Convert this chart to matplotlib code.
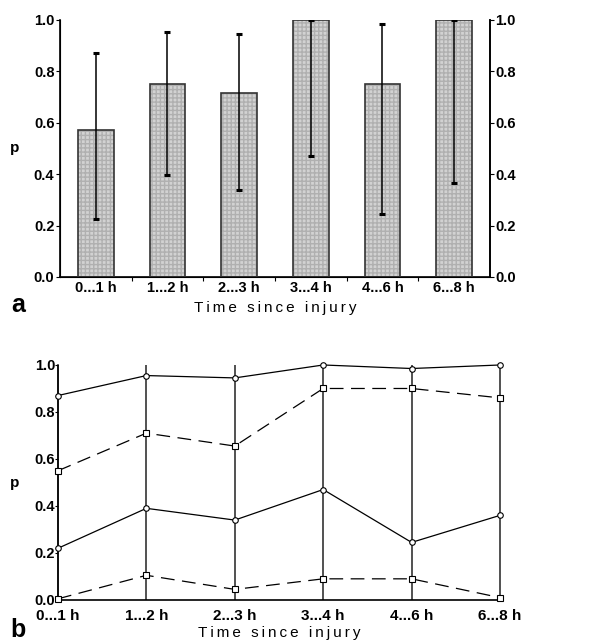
import matplotlib
matplotlib.use("Agg")
import matplotlib.pyplot as plt
import numpy as np

plt.rcParams['font.family'] = ['Liberation Sans', 'DejaVu Sans']

categories = ["0...1 h", "1...2 h", "2...3 h", "3...4 h", "4...6 h", "6...8 h"]
p_values = [0.57, 0.75, 0.714, 1.0, 0.75, 1.0]
ci_upper = [0.87, 0.955, 0.945, 1.0, 0.985, 1.0]
ci_lower = [0.225, 0.395, 0.34, 0.47, 0.245, 0.365]
# panel b series
upper_solid = [0.87, 0.955, 0.945, 1.0, 0.985, 1.0]
upper_dashed = [0.55, 0.71, 0.655, 0.9, 0.9, 0.86]
lower_solid = [0.22, 0.39, 0.34, 0.47, 0.245, 0.36]
lower_dashed = [0.005, 0.105, 0.045, 0.09, 0.09, 0.01]
yticks = [0.0, 0.2, 0.4, 0.6, 0.8, 1.0]
T = "\u2009"
xlabel = (T.join("Time") + T + " " + T + T.join("since") + T + " " + T + T.join("injury"))

fig = plt.figure(figsize=(6.09, 6.41), dpi=100)

tfs = 10.5
# ---------- panel a ----------
ax = fig.add_axes([0.0985, 0.5679, 0.7061, 0.4009])
x = np.arange(len(categories))
ax.bar(x, p_values, width=0.5, facecolor='#d2d2d2', edgecolor='#b0b0b0',
       hatch='++++', linewidth=0, zorder=2)
ax.bar(x, p_values, width=0.5, facecolor='none', edgecolor='#333333',
       linewidth=1.2, zorder=3)
yerr = [np.array(p_values) - np.array(ci_lower), np.array(ci_upper) - np.array(p_values)]
ax.errorbar(x, p_values, yerr=yerr, fmt='none', ecolor='black', elinewidth=1.1,
            capsize=2.5, capthick=2.2, zorder=4)
ax.set_xlim(-0.5, 5.5)
ax.set_ylim(0, 1.0)
ax.set_xticks(x)
ax.set_xticklabels(categories, fontsize=tfs, fontweight='bold')
ax.set_xticks(np.arange(0.5, 5.5, 1.0), minor=True)
ax.tick_params(axis='x', which='major', length=0, pad=3)
ax.tick_params(axis='x', which='minor', length=3, width=0.8)
ax.set_yticks(yticks)
ax.set_yticklabels([f"{v:.1f}" for v in yticks], fontsize=tfs, fontweight='bold')
ax.tick_params(axis='y', length=3, width=0.8, pad=1)
ax.spines['top'].set_visible(False)
for s in ['left', 'bottom', 'right']:
    ax.spines[s].set_linewidth(1.2)
ax2 = ax.twinx()
ax2.set_ylim(0, 1.0)
ax2.set_yticks(yticks)
ax2.set_yticklabels([f"{v:.1f}" for v in yticks], fontsize=tfs, fontweight='bold')
ax2.tick_params(axis='y', length=3, width=0.8, pad=1)
ax2.spines['top'].set_visible(False)
ax2.spines['right'].set_linewidth(1.2)
ax.set_xlabel(xlabel, fontsize=11, labelpad=4)
fig.text(15 / 609, 1 - 148 / 641, "p", fontsize=11, fontweight='bold', ha='center', va='center')
fig.text(18 / 609, 1 - 305 / 641, "a", fontsize=18, fontweight='bold', ha='center', va='center')

# ---------- panel b ----------
bx = fig.add_axes([0.0952, 0.0640, 0.7258, 0.3666])
bx.vlines(x, 0, 1.0, colors='#222222', linewidth=1.1, zorder=1, clip_on=False)
kw = dict(color='black', lw=0.9, ms=4, mfc='white', mec='black', mew=0.8,
          zorder=3, clip_on=False)
bx.plot(x, upper_solid, '-', marker='o', **kw)
bx.plot(x, lower_solid, '-', marker='o', **kw)
bx.plot(x, upper_dashed, dashes=(11, 6), marker='s', **kw)
bx.plot(x, lower_dashed, dashes=(11, 6), marker='s', **kw)
bx.set_xlim(0, 5)
bx.set_ylim(0, 1.0)
bx.set_xticks(x)
bx.set_xticklabels(categories, fontsize=tfs + 0.5, fontweight='bold')
bx.tick_params(axis='x', length=0, pad=6.5)
bx.set_yticks(yticks)
bx.set_yticklabels([f"{v:.1f}" for v in yticks], fontsize=tfs, fontweight='bold')
bx.tick_params(axis='y', length=2, width=0.8, pad=0)
for s in ['top', 'right']:
    bx.spines[s].set_visible(False)
bx.spines['left'].set_linewidth(1.1)
bx.spines['bottom'].set_linewidth(1.2)
bx.set_xlabel(xlabel, fontsize=11, labelpad=2)
fig.text(15 / 609, 1 - 483 / 641, "p", fontsize=11, fontweight='bold', ha='center', va='center')
fig.text(18 / 609, 1 - 630 / 641, "b", fontsize=18, fontweight='bold', ha='center', va='center')

fig.savefig("out.png", dpi=100)
